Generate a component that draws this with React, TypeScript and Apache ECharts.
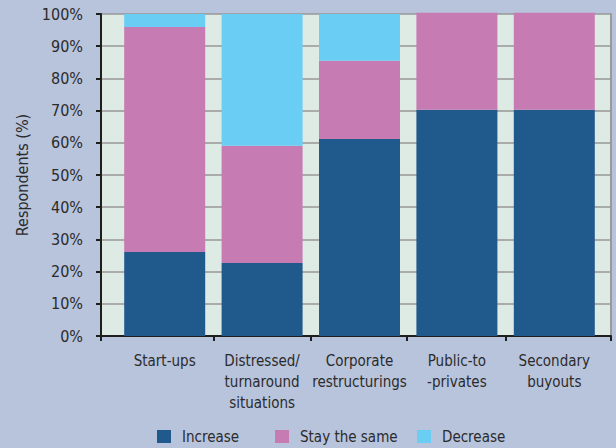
import React, { useEffect, useRef } from "react";
import * as echarts from "echarts";

const categories = [
  "Start-ups",
  "Distressed/\nturnaround\nsituations",
  "Corporate\nrestructurings",
  "Public-to\n-privates",
  "Secondary\nbuyouts",
];
const seriesNames = ["Increase", "Stay the same", "Decrease"];
const increase = [26.1, 22.7, 61.2, 70.3, 70.3];
const stayTheSame = [69.9, 36.4, 24.3, 30.1, 30.1];
const decrease = [4.0, 40.9, 14.5, 0, 0];
const colors = ["#20598c", "#c67bb2", "#69cdf4"];

const FONT = "'DejaVu Sans Condensed', 'DejaVu Sans', sans-serif";
const TEXT = "#2b2b2b";

export default function App() {
  const ref = useRef<HTMLDivElement>(null);
  useEffect(() => {
    if (!ref.current) return;
    const chart = echarts.init(ref.current, undefined, { renderer: "svg" });
    const values = [increase, stayTheSame, decrease];
    chart.setOption({
      animation: false,
      backgroundColor: "#b8c3dc",
      textStyle: { fontFamily: FONT, color: TEXT },
      grid: [
        { left: 101, right: 5, top: 14, bottom: 112, show: true, backgroundColor: "#deebe5", borderWidth: 0 },
        { left: 116, right: 13, top: 14, bottom: 112 },
      ],
      legend: seriesNames.map((n, i) => ({
        data: [n],
        left: [152, 270, 412][i],
        top: 429,
        padding: [0, 5, 0, 5],
        itemWidth: 14,
        itemHeight: 13,
        icon: "rect",
        textStyle: { fontFamily: FONT, fontSize: 15, color: TEXT, padding: [0, 0, 0, 6] },
      })),
      xAxis: [
        {
          gridIndex: 0,
          type: "value",
          min: 0,
          max: 510,
          axisLine: { show: true, lineStyle: { color: "#1e1e1e", width: 2 } },
          axisTick: { show: true, length: 5, customValues: [0, 113, 210, 306, 405, 510], lineStyle: { color: "#1e1e1e", width: 2 } },
          axisLabel: { show: false },
          splitLine: { show: false },
        },
        {
          gridIndex: 1,
          type: "category",
          data: categories,
          axisLine: { show: false },
          axisTick: { show: false },
          axisLabel: { fontFamily: FONT, fontSize: 15, color: TEXT, lineHeight: 21, margin: 14, interval: 0 },
        },
      ],
      yAxis: [
        {
          gridIndex: 0,
          type: "value",
          min: 0,
          max: 100,
          interval: 10,
          name: "Respondents (%)",
          nameLocation: "middle",
          nameGap: 67,
          nameTextStyle: { fontFamily: FONT, fontSize: 16, color: TEXT },
          axisLine: { show: true, lineStyle: { color: "#1e1e1e", width: 2 } },
          axisTick: { show: true, length: 5, lineStyle: { color: "#1e1e1e", width: 2 } },
          axisLabel: { formatter: "{value}%", fontFamily: FONT, fontSize: 16, color: TEXT, margin: 18 },
          splitLine: { show: true, lineStyle: { color: "#979797", width: 1.5 } },
        },
        {
          gridIndex: 0,
          type: "value",
          position: "right",
          min: 0,
          max: 100,
          axisLine: { show: true, lineStyle: { color: "#9a9a9a", width: 2 } },
          axisTick: { show: false },
          axisLabel: { show: false },
          splitLine: { show: false },
        },
        {
          gridIndex: 1,
          type: "value",
          min: 0,
          max: 100,
          show: false,
        },
      ],
      series: seriesNames.map((n, i) => ({
        name: n,
        type: "bar",
        stack: "total",
        xAxisIndex: 1,
        yAxisIndex: 2,
        barWidth: 81,
        clip: false,
        itemStyle: { color: colors[i] },
        data: values[i],
      })),
    });
    return () => chart.dispose();
  }, []);
  return <div ref={ref} style={{ position: "fixed", left: 0, top: 0, width: 616, height: 448 }} />;
}
